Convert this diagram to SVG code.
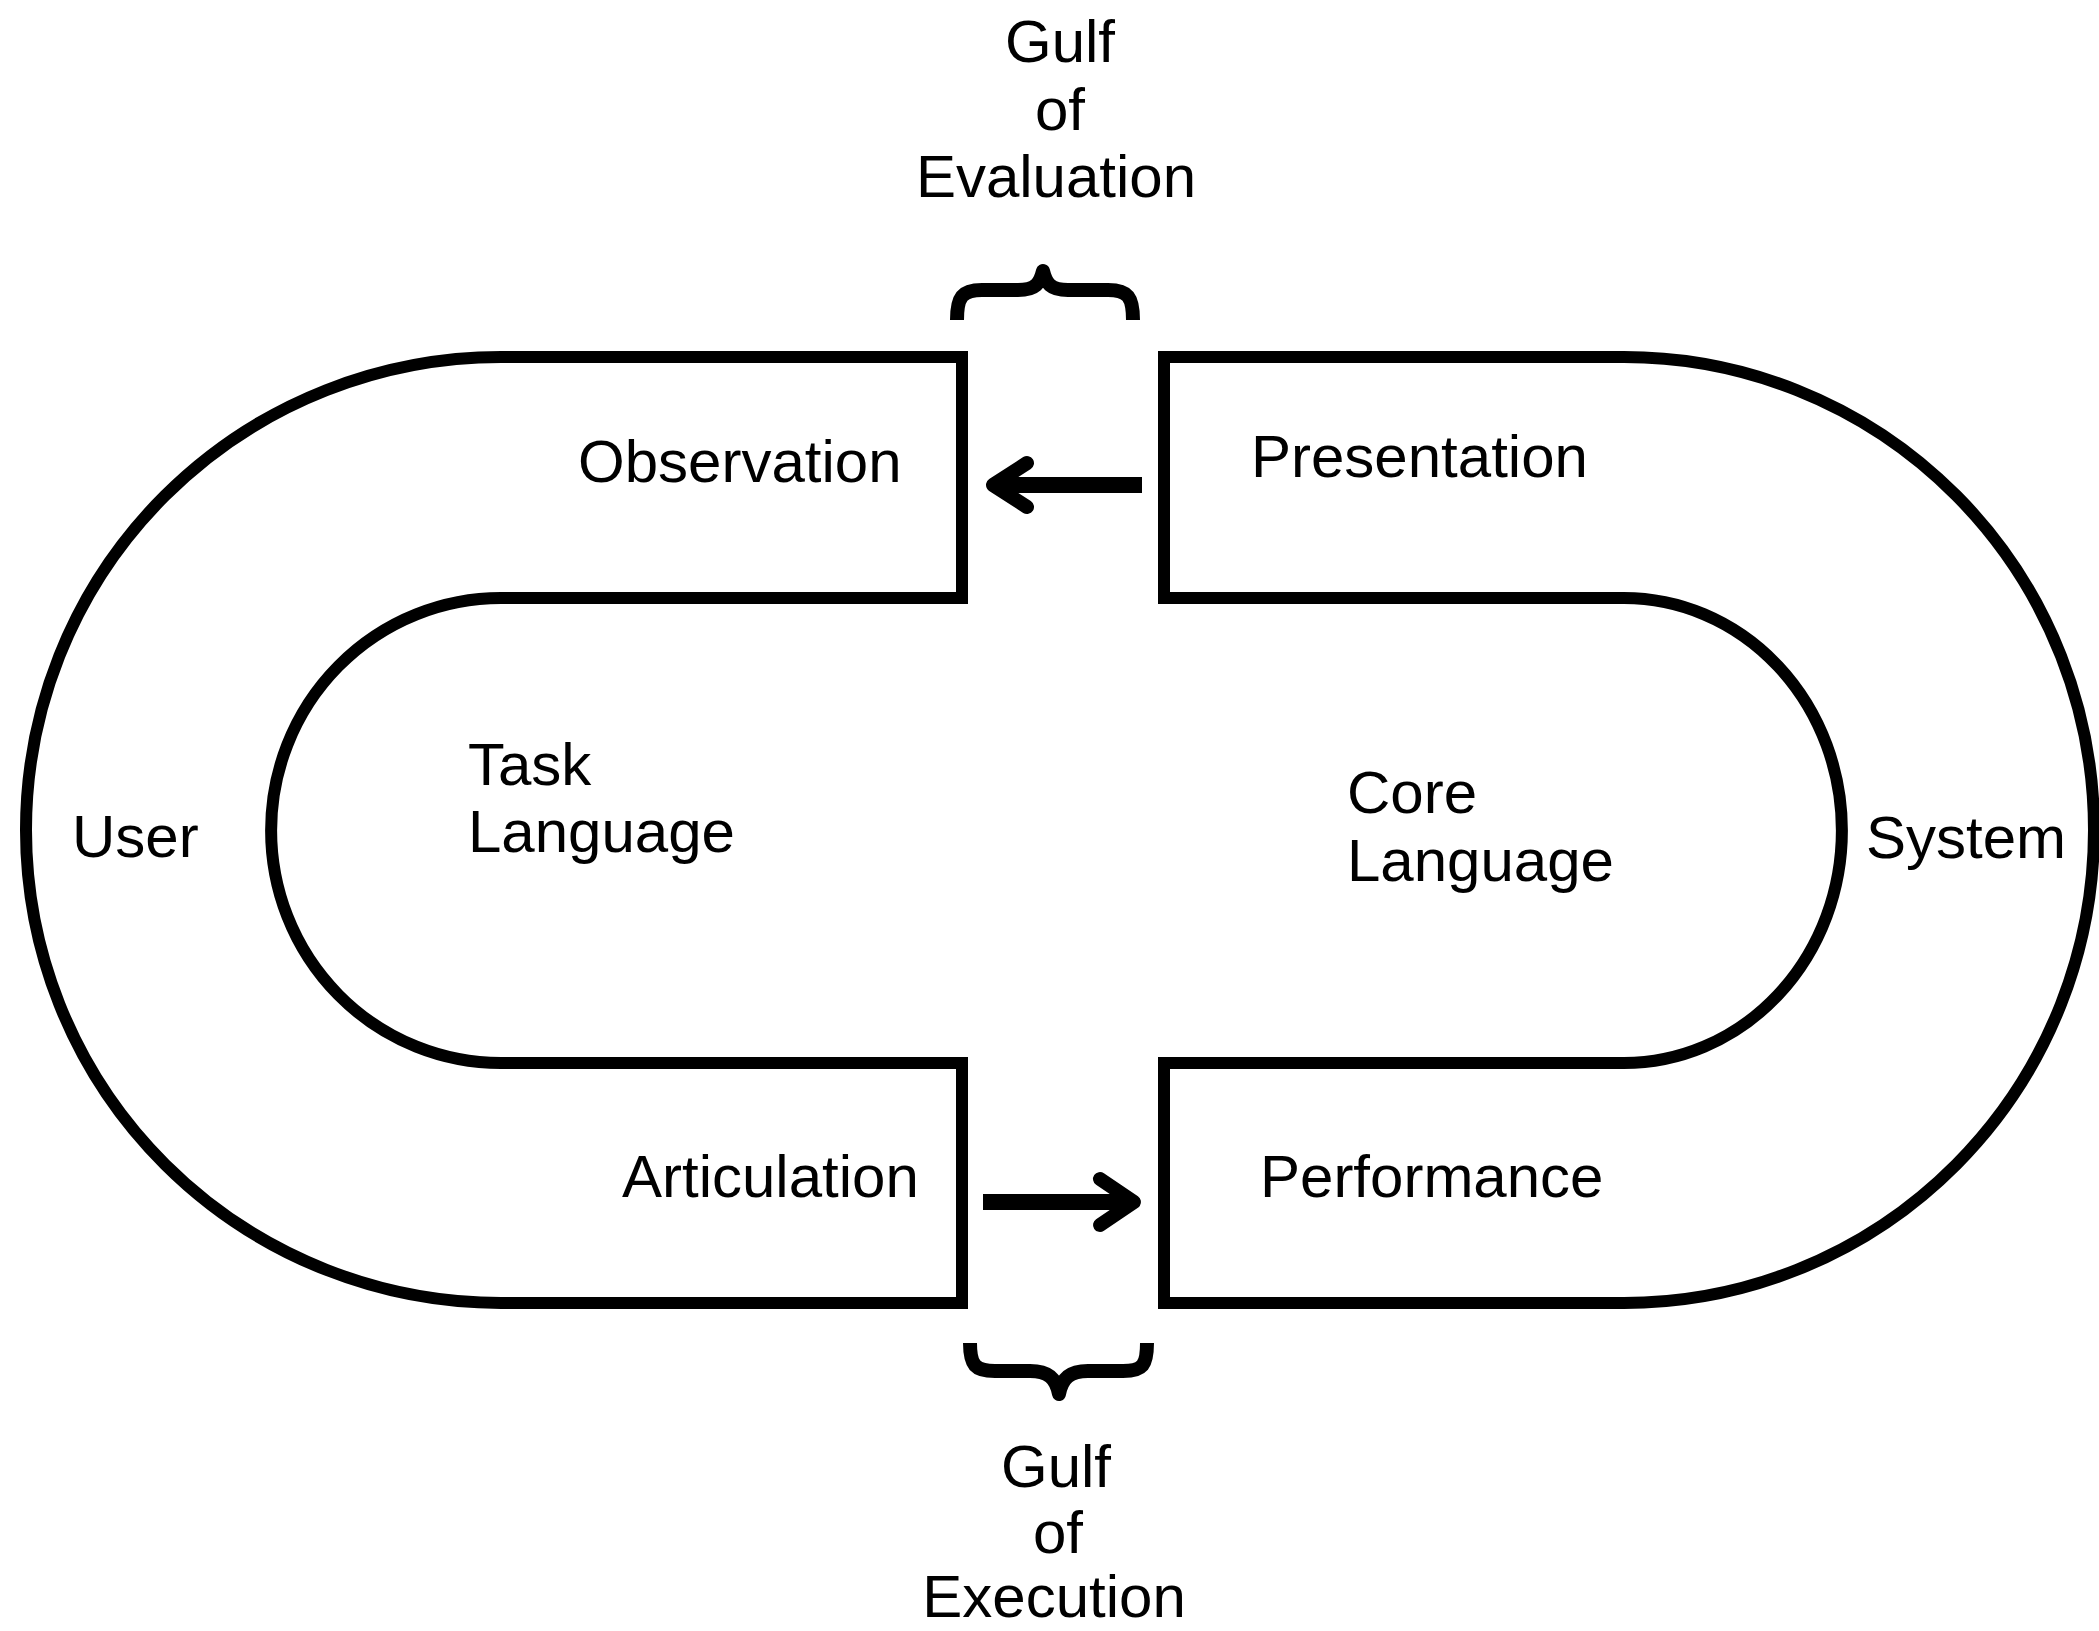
<svg xmlns="http://www.w3.org/2000/svg" width="2099" height="1631" viewBox="0 0 2099 1631">
<style>
.shape{fill:none;stroke:#000;stroke-width:12;stroke-linejoin:miter}
.shaft{fill:none;stroke:#000;stroke-width:16;stroke-linecap:butt}
.head{fill:none;stroke:#000;stroke-width:14;stroke-linecap:round;stroke-linejoin:round}
.brace{fill:none;stroke:#000;stroke-width:14;stroke-linecap:butt;stroke-linejoin:round}
text{font-family:"Liberation Sans",Arial,sans-serif;font-size:60px;fill:#000}
.mid{text-anchor:middle}
</style>
<rect width="2099" height="1631" fill="#fff"/>
<g id="user">
<path class="shape" d="M501,598 H962 V357 H501 A475 473 0 0 0 501,1303 H962 V1063 H501 A230 232.5 0 0 1 501,598 Z"/>
<text x="72" y="857">User</text>
<text x="468" y="785">Task</text>
<text x="468" y="852">Language</text>
<text x="578" y="482">Observation</text>
<text x="622" y="1197">Articulation</text>
</g>
<g id="system">
<path class="shape" d="M1164,598 H1624 A218 232.5 0 0 1 1624,1063 H1164 V1303 H1624 A470 473 0 0 0 1624,357 H1164 Z"/>
<text x="1866" y="858">System</text>
<text x="1347" y="813">Core</text>
<text x="1347" y="881">Language</text>
<text x="1251" y="477">Presentation</text>
<text x="1260" y="1197">Performance</text>
</g>
<g id="gulf-evaluation">
<path class="brace" d="M957,320 C957,297 962,290 982,290 L1018,290 C1036,290 1040,283 1043,271 C1046,283 1050,290 1068,290 L1108,290 C1128,290 1133,297 1133,320"/>
<text class="mid" x="1060" y="62">Gulf</text>
<text class="mid" x="1060" y="130">of</text>
<text class="mid" x="1056" y="197">Evaluation</text>
</g>
<g id="gulf-execution">
<path class="brace" d="M970,1343 C970,1365 975,1371 995,1371 L1030,1371 C1048,1371 1056,1378 1059,1394 C1062,1378 1070,1371 1088,1371 L1123,1371 C1143,1371 1147,1365 1147,1343"/>
<text class="mid" x="1056" y="1487">Gulf</text>
<text class="mid" x="1058" y="1553">of</text>
<text class="mid" x="1054" y="1617">Execution</text>
</g>
<g id="connectors">
<path class="shaft" d="M1142,485 H996"/>
<polyline class="head" points="1027,463 993,485 1027,507"/>
<path class="shaft" d="M983,1202 H1128"/>
<polyline class="head" points="1100,1179 1134,1202 1100,1225"/>
</g>
</svg>
